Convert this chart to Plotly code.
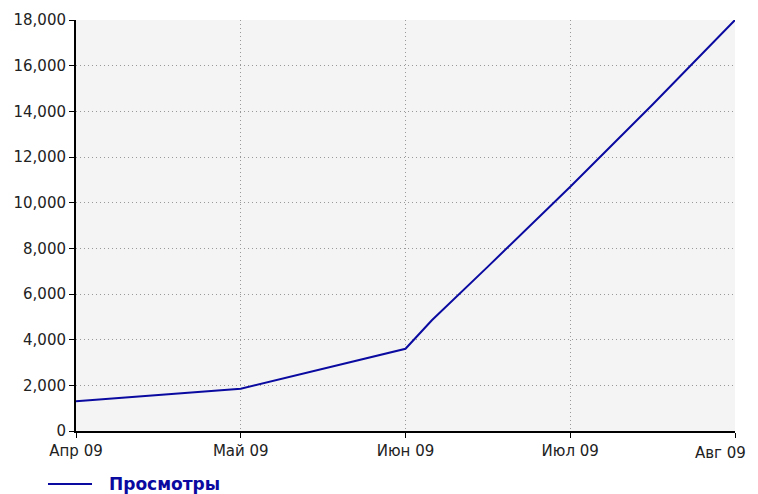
import plotly.graph_objects as go

month_labels = ["Апр 09", "Май 09", "Июн 09", "Июл 09", "Авг 09"]
month_pos = [0, 1, 2, 3, 4]
x_pos = [0, 1, 2, 2.16, 2.5, 3, 3.5, 4]
views = [1300, 1850, 3600, 4850, 7200, 10700, 14300, 18000]
series_name = "Просмотры"

line_color = "#0a0aa0"
font_family = "DejaVu Sans, Verdana, sans-serif"
text_color = "#222222"

fig = go.Figure()
fig.add_trace(go.Scatter(
    x=x_pos, y=views, mode="lines", name=series_name,
    line=dict(color=line_color, width=2), showlegend=False,
))

# legend drawn manually (line sample + label)
fig.add_shape(type="line", xref="paper", yref="paper",
              x0=-0.0425, x1=0.0243, y0=-0.129, y1=-0.129,
              line=dict(color=line_color, width=2))
fig.add_annotation(xref="paper", yref="paper", x=0.047, y=-0.129,
                   xanchor="left", yanchor="middle", showarrow=False,
                   text="<b>" + series_name + "</b>",
                   font=dict(family=font_family, size=17, color=line_color))

# last month label kept inside the page (right-aligned like the reference)
fig.add_annotation(xref="paper", yref="paper", x=1.0, y=0,
                   xanchor="right", yanchor="middle", xshift=13, yshift=-22,
                   showarrow=False, text=month_labels[-1],
                   font=dict(family=font_family, size=15, color=text_color))

axis_common = dict(
    showgrid=True, gridcolor="#999999", griddash="1px,3px", gridwidth=1,
    showline=True, linecolor="black", linewidth=2,
    ticks="outside", ticklen=5, tickcolor="black", tickwidth=1,
    zeroline=False, fixedrange=True, automargin=False,
    tickfont=dict(family=font_family, size=15, color=text_color),
)

fig.update_layout(
    width=750, height=486,
    margin=dict(l=68, r=23, t=12, b=63),
    paper_bgcolor="white",
    plot_bgcolor="#f4f4f4",
    font=dict(family=font_family, size=15, color=text_color),
    showlegend=False,
    xaxis=dict(range=[0, 4], tickvals=month_pos,
               ticktext=month_labels[:-1] + [""], **axis_common),
    yaxis=dict(range=[0, 18000], tickvals=list(range(0, 18001, 2000)),
               tickformat=",", **axis_common),
)
fig.write_html("out.html")
